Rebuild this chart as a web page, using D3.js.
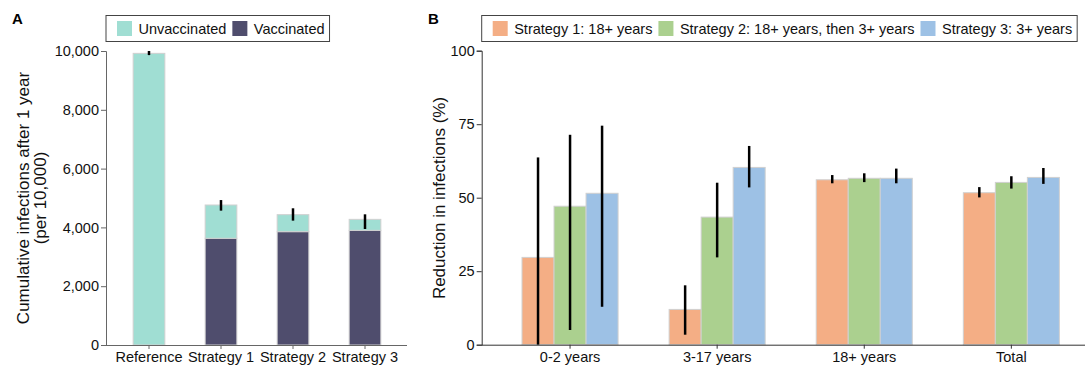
<!DOCTYPE html>
<html>
<head>
<meta charset="utf-8">
<script src="https://cdn.jsdelivr.net/npm/d3@7"></script>
<style>
  body { margin: 0; background: #fff; }
  svg { font-family: "Liberation Sans", Arial, Helvetica, sans-serif; }
</style>
</head>
<body>
<svg id="chart" width="1086" height="367"></svg>
<script>
// ---- data, panel A ----
const strategiesA = ["Reference", "Strategy 1", "Strategy 2", "Strategy 3"];
const vaccinatedA = [0, 3630, 3855, 3900];
const totalA = [9920, 4762, 4433, 4274];
const errLowA = [9860, 4570, 4230, 3945];
const errHighA = [10000, 4930, 4650, 4445];
const stackKeysA = ["Vaccinated", "Unvaccinated"];
const ticksA = [0, 2000, 4000, 6000, 8000, 10000];

// ---- data, panel B ----
const groupsB = ["0-2 years", "3-17 years", "18+ years", "Total"];
const seriesB = ["Strategy 1: 18+ years", "Strategy 2: 18+ years, then 3+ years", "Strategy 3: 3+ years"];
const valuesB = [
  [29.7, 12.0, 56.1, 51.7],
  [47.1, 43.4, 56.6, 55.2],
  [51.5, 60.3, 56.6, 56.9]
];
const lowB = [
  [0, 3.4, 54.9, 50.1],
  [5.0, 29.7, 55.3, 53.1],
  [12.9, 53.5, 54.9, 54.7]
];
const highB = [
  [63.7, 20.2, 57.7, 53.6],
  [71.4, 55.1, 58.3, 57.3],
  [74.5, 67.6, 59.9, 60.1]
];
const ticksB = [0, 25, 50, 75, 100];

const colA = { "Unvaccinated": "#a0ded3", "Vaccinated": "#4f4d6d" };
const colB = ["#f4ae85", "#abd08f", "#9dc1e5"];

const fs = 14.5;      // tick + legend text
const fsTitle = 17;   // axis titles
const svg = d3.select("#chart");
const fmt = d3.format(",");

// ================= panel A =================
const yA = d3.scaleLinear().domain([0, 10000]).range([345, 51]);
const xA = d3.scaleBand().domain(strategiesA).range([113, 401])
  .paddingInner(0.56).paddingOuter(0.28);

const gA = svg.append("g");

// stacked bars
const rowsA = strategiesA.map((s, i) => ({
  name: s, Vaccinated: vaccinatedA[i], Unvaccinated: totalA[i] - vaccinatedA[i]
}));
const stackA = d3.stack().keys(stackKeysA)(rowsA);
stackA.forEach(layer => {
  gA.append("g").selectAll("rect").data(layer).enter().append("rect")
    .filter(d => d[1] - d[0] > 0)
    .attr("x", d => xA(d.data.name))
    .attr("width", xA.bandwidth())
    .attr("y", d => yA(d[1]))
    .attr("height", d => yA(d[0]) - yA(d[1]))
    .attr("fill", colA[layer.key])
    .attr("stroke", "#d0d0d0")
    .attr("stroke-width", 1);
});

// error bars
gA.append("g").selectAll("line").data(strategiesA).enter().append("line")
  .attr("x1", d => xA(d) + xA.bandwidth() / 2)
  .attr("x2", d => xA(d) + xA.bandwidth() / 2)
  .attr("y1", (d, i) => yA(errLowA[i]))
  .attr("y2", (d, i) => yA(errHighA[i]))
  .attr("stroke", "#000")
  .attr("stroke-width", 2.5);

// axes
const axA = gA.append("g").attr("transform", "translate(106,0)")
  .call(d3.axisLeft(yA).tickValues(ticksA).tickFormat(fmt).tickSize(5).tickPadding(2));
const axAx = gA.append("g").attr("transform", "translate(0,345)")
  .call(d3.axisBottom(xA).tickSize(4).tickPadding(3));
axAx.select(".domain").remove();
gA.append("line").attr("x1", 106).attr("x2", 407).attr("y1", 345.5).attr("y2", 345.5)
  .attr("stroke", "#666");
[axA, axAx].forEach(a => {
  a.selectAll("text").attr("font-size", fs).attr("font-family", null).attr("fill", "#111");
  a.selectAll("line, path").attr("stroke", "#666");
});

gA.append("text")
  .attr("transform", "translate(29,198) rotate(-90)")
  .attr("text-anchor", "middle").attr("font-size", fsTitle).attr("fill", "#111")
  .text("Cumulative infections after 1 year");
gA.append("text")
  .attr("transform", "translate(46,198) rotate(-90)")
  .attr("text-anchor", "middle").attr("font-size", fsTitle).attr("fill", "#111")
  .text("(per 10,000)");

svg.append("text").attr("x", 12).attr("y", 23.5).attr("font-size", 15)
  .attr("font-weight", "bold").text("A");

// ================= panel B =================
const yB = d3.scaleLinear().domain([0, 100]).range([344.7, 50.7]);
const xB = d3.scaleBand().domain(groupsB).range([496.5, 1084.9])
  .paddingInner(0.347).paddingOuter(0.1735);
const xInner = d3.scaleBand().domain(d3.range(seriesB.length)).range([0, xB.bandwidth()]);

const gB = svg.append("g");

seriesB.forEach((s, si) => {
  gB.append("g").selectAll("rect").data(groupsB).enter().append("rect")
    .attr("x", d => xB(d) + xInner(si))
    .attr("width", xInner.bandwidth())
    .attr("y", (d, gi) => yB(valuesB[si][gi]))
    .attr("height", (d, gi) => yB(0) - yB(valuesB[si][gi]))
    .attr("fill", colB[si])
    .attr("stroke", "#d0d0d0")
    .attr("stroke-width", 1);
});
seriesB.forEach((s, si) => {
  gB.append("g").selectAll("line").data(groupsB).enter().append("line")
    .attr("x1", d => xB(d) + xInner(si) + xInner.bandwidth() / 2)
    .attr("x2", d => xB(d) + xInner(si) + xInner.bandwidth() / 2)
    .attr("y1", (d, gi) => yB(lowB[si][gi]))
    .attr("y2", (d, gi) => yB(highB[si][gi]))
    .attr("stroke", "#000")
    .attr("stroke-width", 2.5);
});

const axB = gB.append("g").attr("transform", "translate(481.7,0)")
  .call(d3.axisLeft(yB).tickValues(ticksB).tickSize(5).tickPadding(2));
const axBx = gB.append("g").attr("transform", "translate(0,344.7)")
  .call(d3.axisBottom(xB).tickSize(4).tickPadding(3));
axBx.select(".domain").remove();
gB.append("line").attr("x1", 481.7).attr("x2", 1085).attr("y1", 345.2).attr("y2", 345.2)
  .attr("stroke", "#333");
[axB, axBx].forEach(a => {
  a.selectAll("text").attr("font-size", fs).attr("font-family", null).attr("fill", "#111");
  a.selectAll("line, path").attr("stroke", "#333");
});

gB.append("text")
  .attr("transform", "translate(445,198) rotate(-90)")
  .attr("text-anchor", "middle").attr("font-size", fsTitle).attr("fill", "#111")
  .text("Reduction in infections (%)");

svg.append("text").attr("x", 428).attr("y", 23.5).attr("font-size", 15)
  .attr("font-weight", "bold").text("B");

// ================= legends =================
function legend(x0, names, colors) {
  const g = svg.append("g");
  const box = g.append("rect").attr("x", x0).attr("y", 15.5).attr("height", 26)
    .attr("fill", "#fff").attr("stroke", "#444").attr("stroke-width", 1);
  let x = x0 + 11;
  names.forEach((n, i) => {
    g.append("rect").attr("x", x).attr("y", 21).attr("width", 15).attr("height", 15)
      .attr("fill", colors[i]);
    const t = g.append("text").attr("x", x + 21.5).attr("y", 33.5)
      .attr("font-size", fs).attr("fill", "#111").text(n);
    x = x + 21.5 + t.node().getComputedTextLength() + 6;
  });
  box.attr("width", x - x0 - 1);
}
legend(106, ["Unvaccinated", "Vaccinated"], [colA["Unvaccinated"], colA["Vaccinated"]]);
legend(481.7, seriesB, colB);
</script>
</body>
</html>
